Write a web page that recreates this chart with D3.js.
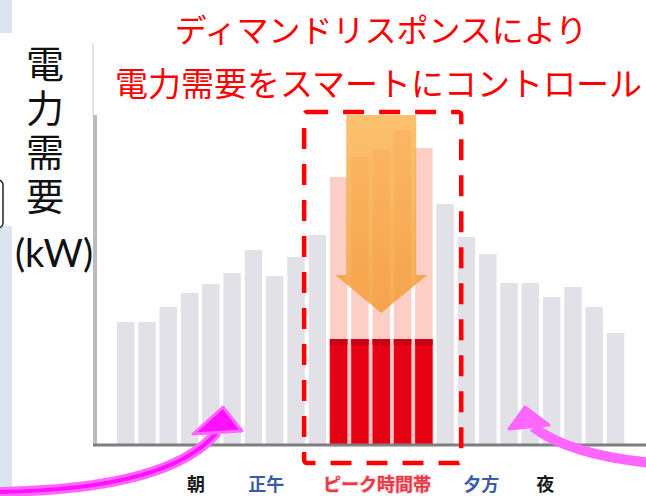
<!DOCTYPE html>
<html><head><meta charset="utf-8">
<script src="https://cdn.jsdelivr.net/npm/d3@7"></script>
<style>html,body{margin:0;padding:0;background:#fff;}svg{display:block;}</style>
</head><body>
<script>
// ---- data ----
const hours = ["0","1","2","3","4","5","6","7","8","9","10","11","12","13","14","15","16","17","18","19","20","21","22","23"];
const demand = [122,122,137,151,160,171,194,168,187,209,267,287,294,314,296,240,207,190,161,161,147,157,137,111];
const peakHours = ["10","11","12","13","14"];
const reducedDemand = [105,105,105,105,105];
const timeLabels = ["朝","正午","ピーク時間帯","夕方","夜"];
const timeLabelHour = [3.3,6.6,11.8,16.7,19.7];
const timeLabelKind = ["night","day","peak","day","night"];
const titleLines = ["ディマンドリスポンスにより","電力需要をスマートにコントロール"];
const yLabel = "電力需要";
const yUnit = "(kW)";

const W = 646, H = 496;
const svg = d3.select("body").append("svg").attr("width", W).attr("height", H);

// left decorative panel
svg.append("rect").attr("x",0).attr("y",0).attr("width",12).attr("height",33).attr("fill","#dce4ef");
svg.append("rect").attr("x",0).attr("y",226).attr("width",12).attr("height",270).attr("fill","#dce4ef");
svg.append("rect").attr("x",-20).attr("y",180).attr("width",23).attr("height",48).attr("rx",5)
  .attr("fill","#fff").attr("stroke","#222").attr("stroke-width",1.5);

// scales
const x = d3.scaleBand().domain(hours).range([115, 115 + 21.3*24]).paddingInner(0.18).paddingOuter(0.09);
const y = d3.scaleLinear().domain([0, 329]).range([444, 115]);
const hx = d3.scaleLinear().domain([0, 23]).range([x("0") + x.bandwidth()/2, x("23") + x.bandwidth()/2]);
const bw = x.bandwidth();

// frame line above axis
svg.append("line").attr("x1",93).attr("x2",93).attr("y1",43).attr("y2",115).attr("stroke","#c8c8c8").attr("stroke-width",1);

// pinkish backdrop behind the reduced bars
const px0 = x(peakHours[0]) - 1, px1 = x(peakHours[4]) + bw + 1;
svg.append("rect").attr("x",px0).attr("width",px1-px0)
  .attr("y", y(d3.max(reducedDemand))).attr("height", y(0) - y(d3.max(reducedDemand)))
  .attr("fill","#ffc4c4");

// bars
const isPeak = h => peakHours.includes(h);
svg.append("g").selectAll("rect").data(hours).join("rect")
  .attr("x", h => x(h)).attr("width", bw)
  .attr("y", (h,i) => y(demand[i])).attr("height", (h,i) => y(0) - y(demand[i]))
  .attr("fill", h => isPeak(h) ? "#fccfc6" : "#e1e1e7");

// reduced (red) bars
svg.append("g").selectAll("rect").data(peakHours).join("rect")
  .attr("x", h => x(h)).attr("width", bw)
  .attr("y", (h,i) => y(reducedDemand[i])).attr("height", (h,i) => y(0) - y(reducedDemand[i]))
  .attr("fill", "#e60014");
svg.append("g").selectAll("rect").data(peakHours).join("rect")
  .attr("x", h => x(h)).attr("width", bw)
  .attr("y", (h,i) => y(reducedDemand[i])).attr("height", 6)
  .attr("fill", "#c8001a");

// axes
svg.append("line").attr("x1",95).attr("x2",95).attr("y1",y(329)).attr("y2",y(0)+2).attr("stroke","#bcbcbc").attr("stroke-width",4);
svg.append("line").attr("x1",93).attr("x2",W).attr("y1",y(0)+1).attr("y2",y(0)+1).attr("stroke","#7f7f7f").attr("stroke-width",3);

// orange arrow
const defs = svg.append("defs");
const g1 = defs.append("linearGradient").attr("id","og").attr("x1",0).attr("x2",0).attr("y1",0).attr("y2",1);
g1.append("stop").attr("offset","0%").attr("stop-color","#fbb350");
g1.append("stop").attr("offset","100%").attr("stop-color","#f39a30");
const cx = (x(peakHours[0]) + x(peakHours[4]) + bw)/2;
const aTop = y(329), aBase = y(169), aTip = y(131);
const arrowPts = [[cx-35,aTop],[cx+35,aTop],[cx+35,aBase],[cx+46,aBase],[cx,aTip],[cx-46,aBase],[cx-35,aBase]];
svg.append("path").attr("d", d3.line()(arrowPts) + "Z").attr("fill","url(#og)").attr("opacity",0.82);

// dashed rectangle
const rx0 = x("9") - 4.5, rx1 = x("16") + 3.5;
svg.append("rect").attr("x", rx0).attr("y", 112).attr("width", rx1 - rx0).attr("height", 463 - 112)
  .attr("rx",3).attr("fill","none").attr("stroke","#ff0000").attr("stroke-width",4.5)
  .attr("stroke-dasharray","21 15");

// titles
svg.append("text").attr("x",381).attr("y",42).attr("text-anchor","middle")
  .attr("font-family","'Noto Sans CJK JP'").attr("font-size",32).attr("fill","#ff0000").text(titleLines[0]);
svg.append("text").attr("x",115).attr("y",96)
  .attr("font-family","'Noto Sans CJK JP'").attr("font-size",33).attr("fill","#ff0000").text(titleLines[1]);

// y label (vertical writing)
svg.append("text").attr("x",45).attr("y",45)
  .style("writing-mode","vertical-rl").attr("letter-spacing",6)
  .attr("font-family","'Noto Sans CJK JP'").attr("font-size",38).attr("fill","#111").text(yLabel);
svg.append("text").attr("x",54).attr("y",267).attr("text-anchor","middle")
  .attr("font-family","Lato").attr("font-size",38).attr("fill","#111").text(yUnit);

// bottom time labels
const kindColor = {night:"#1a1a1a", day:"#3a5ca6", peak:"#e23a48"};
svg.append("g").selectAll("text").data(timeLabels).join("text")
  .attr("x",(d,i)=>hx(timeLabelHour[i])).attr("y",491).attr("text-anchor","middle")
  .attr("font-family","'Noto Sans CJK JP'").attr("font-weight","bold").attr("font-size",18)
  .attr("fill",(d,i)=>kindColor[timeLabelKind[i]])
  .attr("stroke",(d,i)=>timeLabelKind[i]==="peak" ? "#ffd0d4" : "none").attr("stroke-width",2).attr("paint-order","stroke")
  .text(d=>d);

// magenta arrows
const leftPath = "M -5 492 Q 170 490 217 432";
svg.append("path").attr("d",leftPath).attr("fill","none").attr("stroke","#ff66ff").attr("stroke-width",10);
svg.append("path").attr("d",leftPath).attr("fill","none").attr("stroke","#ff10ff").attr("stroke-width",4);
svg.append("path").attr("d","M 193 434 L 223 407 L 242 431 Z").attr("fill","#ff10ff").attr("stroke","#ff66ff").attr("stroke-width",3).attr("stroke-linejoin","round");
const rightPath = "M 652 463 Q 570 455 533 427";
svg.append("path").attr("d",rightPath).attr("fill","none").attr("stroke","#ff66ff").attr("stroke-width",10);
svg.append("path").attr("d","M 509 429 L 525 407 L 549 425 Z").attr("fill","#ff66ff").attr("stroke","#ff66ff").attr("stroke-width",3).attr("stroke-linejoin","round");
</script>
</body></html>
